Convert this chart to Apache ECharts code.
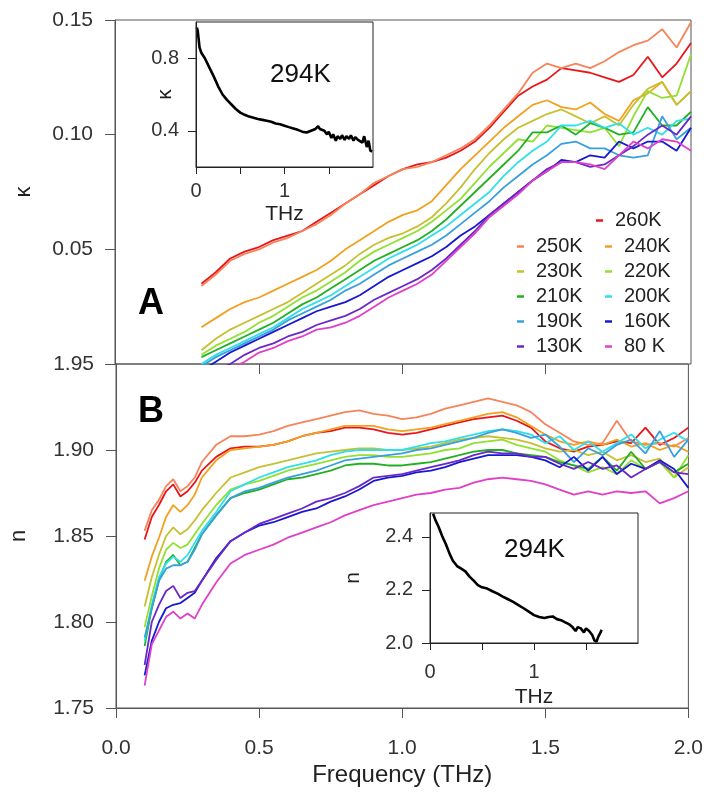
<!DOCTYPE html>
<html>
<head>
<meta charset="utf-8">
<script src="https://cdn.jsdelivr.net/npm/echarts@6/dist/echarts.min.js"></script>
<style>
html,body{margin:0;padding:0;background:#fff;}
#c{width:706px;height:794px;}
</style>
</head>
<body>
<div id="c"></div>
<script>
// ---------- DATA ----------
const temps = ['260K','250K','240K','230K','220K','210K','200K','190K','160K','130K','80 K'];
const colors = ['#e8161b','#f5845a','#f2a020','#c6c030','#92e030','#22b022','#30e0e8','#38a0dc','#1818d0','#6a28c8','#e040c8'];

// kappa panel (A) frequencies, THz
const freqK = [0.30,0.35,0.40,0.45,0.50,0.55,0.60,0.65,0.70,0.75,0.80,0.85,0.90,0.95,1.00,1.05,1.10,1.15,1.20,1.25,1.30,1.35,1.40,1.45,1.50,1.55,1.60,1.65,1.70,1.75,1.80,1.85,1.90,1.95,2.00];
const k260 = [0.035,0.040,0.046,0.049,0.051,0.054,0.056,0.058,0.062,0.066,0.070,0.074,0.078,0.082,0.085,0.087,0.088,0.090,0.093,0.097,0.103,0.110,0.117,0.121,0.124,0.129,0.128,0.127,0.125,0.123,0.126,0.134,0.125,0.131,0.140];
const k250 = [0.034,0.039,0.045,0.048,0.050,0.053,0.055,0.058,0.061,0.065,0.070,0.074,0.079,0.082,0.085,0.086,0.088,0.091,0.094,0.098,0.104,0.111,0.118,0.127,0.131,0.129,0.131,0.129,0.132,0.136,0.139,0.141,0.146,0.138,0.149];
const k240 = [0.016,0.020,0.024,0.027,0.029,0.032,0.035,0.038,0.041,0.045,0.050,0.054,0.058,0.062,0.065,0.067,0.071,0.078,0.085,0.091,0.097,0.103,0.108,0.113,0.115,0.112,0.111,0.114,0.109,0.106,0.115,0.118,0.123,0.113,0.119];
const k230 = [0.006,0.011,0.015,0.018,0.021,0.024,0.027,0.031,0.035,0.039,0.043,0.048,0.052,0.055,0.057,0.060,0.064,0.070,0.077,0.085,0.092,0.098,0.103,0.106,0.109,0.111,0.108,0.105,0.108,0.104,0.113,0.120,0.123,0.113,0.119];
const k220 = [0.004,0.008,0.011,0.014,0.018,0.021,0.025,0.029,0.032,0.036,0.040,0.045,0.049,0.052,0.055,0.058,0.062,0.067,0.072,0.079,0.086,0.092,0.098,0.097,0.104,0.103,0.102,0.101,0.103,0.095,0.108,0.119,0.116,0.117,0.135];
const k210 = [0.003,0.006,0.009,0.012,0.015,0.018,0.022,0.026,0.029,0.033,0.037,0.041,0.045,0.048,0.051,0.054,0.058,0.063,0.069,0.075,0.081,0.087,0.093,0.101,0.101,0.104,0.100,0.105,0.103,0.100,0.101,0.112,0.104,0.104,0.110];
const k200 = [0.000,0.004,0.007,0.010,0.013,0.016,0.020,0.024,0.027,0.030,0.034,0.038,0.042,0.046,0.049,0.052,0.056,0.060,0.065,0.070,0.075,0.082,0.088,0.093,0.097,0.104,0.104,0.106,0.103,0.105,0.100,0.103,0.100,0.106,0.107];
const k190 = [-0.001,0.003,0.006,0.009,0.012,0.015,0.019,0.022,0.025,0.028,0.032,0.035,0.039,0.043,0.046,0.049,0.052,0.056,0.061,0.066,0.071,0.077,0.082,0.087,0.091,0.096,0.097,0.094,0.094,0.091,0.090,0.091,0.108,0.098,0.103];
const k160 = [-0.003,0.001,0.005,0.008,0.011,0.014,0.017,0.020,0.023,0.025,0.027,0.030,0.034,0.038,0.041,0.044,0.047,0.051,0.056,0.060,0.065,0.070,0.075,0.080,0.084,0.089,0.088,0.091,0.090,0.097,0.094,0.097,0.097,0.093,0.103];
const k130 = [-0.006,-0.003,0.000,0.004,0.007,0.009,0.012,0.014,0.017,0.019,0.021,0.024,0.028,0.031,0.034,0.037,0.041,0.046,0.052,0.058,0.065,0.070,0.075,0.080,0.085,0.088,0.088,0.086,0.087,0.091,0.095,0.100,0.104,0.100,0.108];
const k80  = [-0.009,-0.005,-0.002,0.001,0.005,0.007,0.010,0.012,0.015,0.016,0.018,0.021,0.025,0.029,0.032,0.035,0.039,0.045,0.051,0.057,0.064,0.069,0.074,0.080,0.084,0.088,0.088,0.087,0.085,0.091,0.097,0.094,0.098,0.097,0.093];

// refractive index panel (B) frequencies, THz
const freqN = [0.10,0.125,0.15,0.175,0.20,0.225,0.25,0.275,0.30,0.35,0.40,0.45,0.50,0.55,0.60,0.65,0.70,0.75,0.80,0.85,0.90,0.95,1.00,1.05,1.10,1.15,1.20,1.25,1.30,1.35,1.40,1.45,1.50,1.55,1.60,1.65,1.70,1.75,1.80,1.85,1.90,1.95,2.00];
const n260 = [1.848,1.861,1.868,1.876,1.880,1.873,1.876,1.881,1.888,1.896,1.901,1.902,1.902,1.903,1.905,1.908,1.910,1.911,1.913,1.913,1.912,1.910,1.909,1.910,1.912,1.914,1.916,1.918,1.919,1.920,1.917,1.913,1.905,1.901,1.899,1.902,1.903,1.905,1.904,1.913,1.903,1.907,1.913];
const n250 = [1.853,1.865,1.871,1.879,1.883,1.876,1.879,1.884,1.893,1.903,1.908,1.908,1.909,1.911,1.914,1.916,1.918,1.920,1.922,1.923,1.921,1.920,1.918,1.919,1.921,1.924,1.926,1.928,1.930,1.928,1.926,1.922,1.915,1.910,1.905,1.903,1.904,1.917,1.905,1.903,1.904,1.902,1.907];
const n240 = [1.824,1.838,1.849,1.861,1.868,1.864,1.868,1.874,1.884,1.894,1.900,1.901,1.902,1.903,1.905,1.908,1.910,1.912,1.914,1.914,1.914,1.912,1.911,1.912,1.913,1.915,1.917,1.919,1.921,1.922,1.919,1.914,1.909,1.905,1.903,1.905,1.903,1.906,1.902,1.904,1.900,1.903,1.899];
const n230 = [1.809,1.826,1.839,1.850,1.855,1.851,1.854,1.859,1.865,1.875,1.884,1.887,1.890,1.892,1.894,1.896,1.898,1.899,1.900,1.901,1.901,1.900,1.900,1.901,1.902,1.904,1.906,1.907,1.908,1.907,1.906,1.904,1.901,1.899,1.900,1.897,1.899,1.894,1.897,1.893,1.895,1.884,1.890];
const n220 = [1.797,1.815,1.831,1.842,1.846,1.843,1.845,1.851,1.857,1.868,1.877,1.880,1.882,1.885,1.888,1.890,1.892,1.894,1.896,1.897,1.897,1.896,1.896,1.897,1.898,1.900,1.901,1.904,1.905,1.906,1.903,1.901,1.899,1.894,1.891,1.887,1.890,1.886,1.894,1.889,1.893,1.884,1.897];
const n210 = [1.786,1.808,1.824,1.835,1.839,1.833,1.835,1.843,1.851,1.862,1.872,1.875,1.877,1.880,1.883,1.884,1.886,1.888,1.891,1.892,1.892,1.891,1.891,1.892,1.893,1.895,1.897,1.899,1.900,1.900,1.898,1.897,1.896,1.893,1.891,1.889,1.896,1.888,1.899,1.889,1.893,1.887,1.892];
const n200 = [1.789,1.810,1.826,1.834,1.838,1.835,1.839,1.846,1.853,1.864,1.876,1.880,1.884,1.887,1.890,1.892,1.894,1.897,1.899,1.900,1.900,1.900,1.900,1.902,1.904,1.905,1.907,1.909,1.911,1.912,1.911,1.909,1.904,1.908,1.900,1.905,1.899,1.904,1.909,1.901,1.906,1.910,1.905];
const n190 = [1.791,1.808,1.824,1.831,1.833,1.833,1.835,1.842,1.851,1.862,1.872,1.876,1.878,1.881,1.884,1.886,1.888,1.891,1.894,1.895,1.896,1.897,1.898,1.900,1.901,1.903,1.905,1.907,1.910,1.912,1.910,1.907,1.909,1.902,1.893,1.901,1.897,1.903,1.906,1.898,1.911,1.896,1.906];
const n160 = [1.769,1.789,1.800,1.808,1.810,1.811,1.814,1.817,1.824,1.837,1.847,1.852,1.856,1.858,1.861,1.864,1.866,1.870,1.873,1.877,1.882,1.884,1.885,1.887,1.888,1.890,1.893,1.895,1.897,1.897,1.897,1.896,1.894,1.890,1.896,1.888,1.896,1.886,1.892,1.889,1.894,1.889,1.878];
const n130 = [1.775,1.800,1.810,1.818,1.821,1.814,1.817,1.818,1.824,1.836,1.847,1.852,1.857,1.860,1.863,1.866,1.870,1.872,1.875,1.879,1.884,1.885,1.886,1.888,1.890,1.892,1.894,1.897,1.899,1.898,1.898,1.896,1.896,1.892,1.889,1.893,1.889,1.891,1.884,1.889,1.893,1.887,1.886];
const n80  = [1.763,1.787,1.795,1.803,1.806,1.802,1.805,1.802,1.810,1.823,1.834,1.839,1.842,1.845,1.849,1.852,1.855,1.858,1.862,1.865,1.868,1.870,1.872,1.874,1.875,1.877,1.878,1.881,1.883,1.884,1.883,1.882,1.880,1.877,1.874,1.876,1.874,1.876,1.875,1.876,1.869,1.872,1.876];

// 294K insets
const insetKFreq = [0.01,0.02,0.04,0.06,0.08,0.10,0.15,0.20,0.25,0.30,0.35,0.40,0.45,0.50,0.55,0.60,0.65,0.70,0.75,0.80,0.85,0.90,0.95,1.00,1.05,1.10,1.15,1.20,1.25,1.30,1.35,1.38,1.40,1.45,1.48,1.50,1.53,1.55,1.58,1.60,1.63,1.65,1.68,1.70,1.73,1.75,1.78,1.80,1.83,1.85,1.88,1.90,1.93,1.95,1.97,1.99];
const insetKVal  = [0.97,0.95,0.86,0.83,0.815,0.80,0.75,0.70,0.645,0.60,0.57,0.545,0.52,0.50,0.488,0.478,0.472,0.465,0.46,0.455,0.45,0.44,0.436,0.428,0.42,0.413,0.405,0.395,0.39,0.40,0.41,0.425,0.41,0.40,0.38,0.395,0.36,0.38,0.345,0.37,0.355,0.375,0.35,0.37,0.355,0.375,0.345,0.365,0.35,0.36,0.335,0.37,0.31,0.345,0.29,0.285];
const insetNFreq = [0.03,0.05,0.08,0.10,0.12,0.15,0.19,0.22,0.26,0.30,0.34,0.38,0.42,0.46,0.50,0.55,0.60,0.65,0.70,0.75,0.80,0.85,0.90,0.95,1.00,1.05,1.10,1.14,1.18,1.22,1.26,1.30,1.34,1.37,1.40,1.42,1.45,1.48,1.50,1.53,1.56,1.58,1.60,1.62,1.64,1.65];
const insetNVal  = [2.487,2.465,2.44,2.42,2.40,2.375,2.335,2.31,2.29,2.28,2.27,2.25,2.235,2.218,2.21,2.205,2.195,2.186,2.175,2.165,2.155,2.143,2.131,2.118,2.105,2.098,2.094,2.098,2.10,2.09,2.086,2.078,2.07,2.06,2.045,2.06,2.055,2.04,2.055,2.045,2.03,2.01,2.005,2.025,2.04,2.05];

const kSets = [k260,k250,k240,k230,k220,k210,k200,k190,k160,k130,k80];
const nSets = [n260,n250,n240,n230,n220,n210,n200,n190,n160,n130,n80];

// ---------- CHART ----------
const FONT = "'Liberation Sans', Arial, Helvetica, sans-serif";
const AX = '#555';
const TXT = '#333';
const zip = (xs, ys) => xs.map((x, i) => [x, ys[i]]);

const series = [];
temps.forEach((t, i) => {
  series.push({name: t, type: 'line', xAxisIndex: 0, yAxisIndex: 0, data: zip(freqK, kSets[i]),
    showSymbol: false, symbol: 'none', lineStyle: {color: colors[i], width: 1.8}, itemStyle: {color: colors[i]}, animation: false, z: 3});
  series.push({name: t, type: 'line', xAxisIndex: 1, yAxisIndex: 1, data: zip(freqN, nSets[i]),
    showSymbol: false, symbol: 'none', lineStyle: {color: colors[i], width: 1.8}, itemStyle: {color: colors[i]}, animation: false, z: 3});
});
series.push({name: 'inset-k', type: 'line', xAxisIndex: 3, yAxisIndex: 2, data: zip(insetKFreq, insetKVal),
  showSymbol: false, symbol: 'none', lineStyle: {color: '#000', width: 2.6}, animation: false, z: 5});
series.push({name: 'inset-n', type: 'line', xAxisIndex: 4, yAxisIndex: 3, data: zip(insetNFreq, insetNVal),
  showSymbol: false, symbol: 'none', lineStyle: {color: '#000', width: 2.6}, animation: false, z: 5});

const legendBase = {
  orient: 'vertical', icon: 'rect', itemWidth: 7, itemHeight: 2.5, itemGap: 0,
  selectedMode: false, padding: 0,
  textStyle: {fontFamily: FONT, fontSize: 20, color: '#222', lineHeight: 25, padding: [0, 0, 0, 7]}
};

const option = {
  backgroundColor: '#fff',
  animation: false,
  grid: [
    {left: 115, top: 20, width: 576, height: 344, show: true, borderColor: AX, borderWidth: 1, backgroundColor: 'transparent'},
    {left: 115, top: 364, width: 576, height: 344, show: true, borderColor: AX, borderWidth: 1, backgroundColor: 'transparent'},
    {left: 196, top: 22, width: 177, height: 145, show: true, borderColor: '#222', borderWidth: 1, backgroundColor: '#fff', z: 4},
    {left: 430, top: 513, width: 208, height: 130, show: true, borderColor: '#222', borderWidth: 1, backgroundColor: '#fff', z: 4}
  ],
  xAxis: [
    {gridIndex: 0, type: 'value', min: 0, max: 2, show: false},
    {gridIndex: 1, type: 'value', min: 0, max: 2, interval: 0.5, position: 'bottom',
      axisLine: {show: true, lineStyle: {color: AX, width: 1}},
      axisTick: {show: true, inside: false, length: 10, lineStyle: {color: AX}},
      axisLabel: {fontFamily: FONT, fontSize: 21, color: TXT, margin: 30, formatter: v => v.toFixed(1)},
      splitLine: {show: false},
      name: 'Frequency (THz)', nameLocation: 'middle', nameGap: 55, nameMoveOverlap: false,
      nameTextStyle: {fontFamily: FONT, fontSize: 24, color: '#222'}},
    {gridIndex: 1, type: 'value', min: 0, max: 2, position: 'top',
      axisLine: {show: false},
      axisTick: {show: true, inside: true, length: 10, lineStyle: {color: AX}, customValues: [0.5, 1.0, 1.5]},
      axisLabel: {show: false}, splitLine: {show: false}},
    {gridIndex: 2, type: 'value', min: 0, max: 2, position: 'bottom', z: 6,
      axisLine: {show: true, lineStyle: {color: '#222'}},
      axisTick: {show: true, inside: false, length: 7, lineStyle: {color: '#222'}, customValues: [0, 0.5, 1, 1.5]},
      axisLabel: {fontFamily: FONT, fontSize: 20, color: TXT, margin: 14, customValues: [0, 1], formatter: v => String(v)},
      splitLine: {show: false},
      name: 'THz', nameLocation: 'middle', nameGap: 37, nameMoveOverlap: false,
      nameTextStyle: {fontFamily: FONT, fontSize: 21, color: '#222'}},
    {gridIndex: 3, type: 'value', min: 0, max: 2, position: 'bottom', z: 6,
      axisLine: {show: true, lineStyle: {color: '#222'}},
      axisTick: {show: true, inside: false, length: 7, lineStyle: {color: '#222'}, customValues: [0, 0.5, 1, 1.5]},
      axisLabel: {fontFamily: FONT, fontSize: 20, color: TXT, margin: 19, customValues: [0, 1], formatter: v => String(v)},
      splitLine: {show: false},
      name: 'THz', nameLocation: 'middle', nameGap: 44, nameMoveOverlap: false,
      nameTextStyle: {fontFamily: FONT, fontSize: 21, color: '#222'}}
  ],
  yAxis: [
    {gridIndex: 0, type: 'value', min: 0, max: 0.15, interval: 0.05,
      axisLine: {show: true, lineStyle: {color: AX}},
      axisTick: {show: true, inside: false, length: 10, lineStyle: {color: AX}},
      axisLabel: {fontFamily: FONT, fontSize: 21, color: TXT, margin: 22, formatter: v => (v < 0.001 ? '' : v.toFixed(2))},
      splitLine: {show: false},
      name: 'κ', nameLocation: 'middle', nameGap: 80, nameRotate: 90, nameMoveOverlap: false,
      nameTextStyle: {fontFamily: FONT, fontSize: 22, color: '#222'}},
    {gridIndex: 1, type: 'value', min: 1.75, max: 1.95, interval: 0.05,
      axisLine: {show: true, lineStyle: {color: AX}},
      axisTick: {show: true, inside: false, length: 10, lineStyle: {color: AX}},
      axisLabel: {fontFamily: FONT, fontSize: 21, color: TXT, margin: 22, formatter: v => v.toFixed(2)},
      splitLine: {show: false},
      name: 'n', nameLocation: 'middle', nameGap: 86, nameRotate: 90, nameMoveOverlap: false,
      nameTextStyle: {fontFamily: FONT, fontSize: 22, color: '#222'}},
    {gridIndex: 2, type: 'value', min: 0.2, max: 1.0, z: 6,
      axisLine: {show: true, lineStyle: {color: '#222'}},
      axisTick: {show: true, inside: false, length: 8, lineStyle: {color: '#222'}, customValues: [0.4, 0.8]},
      axisLabel: {fontFamily: FONT, fontSize: 20, color: TXT, margin: 17, customValues: [0.4, 0.8], formatter: v => v.toFixed(1)},
      splitLine: {show: false},
      name: 'κ', nameLocation: 'middle', nameGap: 20, nameRotate: 90, nameMoveOverlap: false,
      nameTextStyle: {fontFamily: FONT, fontSize: 21, color: '#222'}},
    {gridIndex: 3, type: 'value', min: 2.0, max: 2.49, z: 6,
      axisLine: {show: true, lineStyle: {color: '#222'}},
      axisTick: {show: true, inside: false, length: 8, lineStyle: {color: '#222'}, customValues: [2.0, 2.2, 2.4]},
      axisLabel: {fontFamily: FONT, fontSize: 20, color: TXT, margin: 17, customValues: [2.0, 2.2, 2.4], formatter: v => v.toFixed(1)},
      splitLine: {show: false},
      name: 'n', nameLocation: 'middle', nameGap: 66, nameRotate: 90, nameMoveOverlap: false,
      nameTextStyle: {fontFamily: FONT, fontSize: 21, color: '#222'}}
  ],
  legend: [
    Object.assign({}, legendBase, {data: ['260K'], left: 596, top: 208}),
    Object.assign({}, legendBase, {data: ['250K','230K','210K','190K','130K'], left: 517, top: 234}),
    Object.assign({}, legendBase, {data: ['240K','220K','200K','160K','80 K'], left: 605, top: 234})
  ],
  graphic: [
    {type: 'text', left: 138, top: 286, z: 10, style: {text: 'A', fontFamily: FONT, fontSize: 36, fontWeight: 'bold', fill: '#000'}},
    {type: 'text', left: 138, top: 394, z: 10, style: {text: 'B', fontFamily: FONT, fontSize: 36, fontWeight: 'bold', fill: '#000'}},
    {type: 'text', left: 270, top: 62, z: 10, style: {text: '294K', fontFamily: FONT, fontSize: 26, fill: '#111'}},
    {type: 'text', left: 504, top: 537, z: 10, style: {text: '294K', fontFamily: FONT, fontSize: 26, fill: '#111'}}
  ],
  series: series
};

const chart = echarts.init(document.getElementById('c'), null, {renderer: 'canvas'});
chart.setOption(option);
</script>
</body>
</html>
